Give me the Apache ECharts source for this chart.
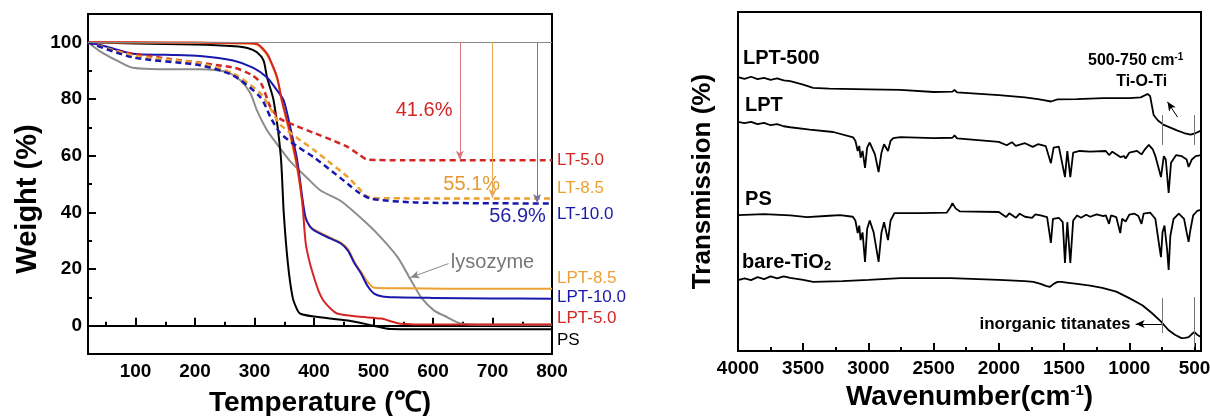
<!DOCTYPE html>
<html>
<head>
<meta charset="utf-8">
<script src="https://cdn.jsdelivr.net/npm/echarts@6/dist/echarts.min.js"></script>
<style>
  html, body { margin: 0; padding: 0; background: #fff; }
  #chart { width: 1210px; height: 416px; }
</style>
</head>
<body>
<div id="chart"></div>
<script>
// tick labels
const tgaXTicks = [100, 200, 300, 400, 500, 600, 700, 800];
const tgaXMinor = [50, 150, 250, 350, 450, 550, 650, 750];
const tgaYTicks = [0, 20, 40, 60, 80, 100];
const tgaYMinor = [10, 30, 50, 70, 90];
const irXTicks = [500, 1000, 1500, 2000, 2500, 3000, 3500, 4000];
const irXMinor = [750, 1250, 1750, 2250, 2750, 3250, 3750];

// TGA curves, [temperature, weight %]
const psTga = [[20,100],[100,99.6],[200,99.2],[266,98.6],[288,98],[304,96.5],[315,93.6],[321,87.6],[332,79.5],[344,60],[349,40],[356,22],[364,10],[372,5.5],[377,4.2],[400,3.2],[457,1.8],[500,0],[529,-1.2],[600,-1.3],[700,-1.3],[800,-1.3]];
const lpt50 = [[20,100],[100,100],[200,99.9],[280,99.8],[304,99.4],[321,96],[330,92],[338,87.6],[346,79.5],[360,68],[372,56],[380,44],[386,29],[393,22],[400,17],[408,12],[416,8.8],[428,6],[440,4.2],[474,3.2],[513,2.5],[530,1.5],[545,0.7],[600,0.4],[700,0.4],[800,0.4]];
const lpt85 = [[20,100],[100,99.9],[200,99.8],[290,99.5],[304,99.2],[321,95.5],[338,87],[346,79],[360,67],[372,55],[380,44],[385,38],[393,35.2],[400,34],[428,31],[445,29.3],[457,27],[468,22.5],[479,19],[490,15.5],[501,13.4],[550,13.2],[700,13],[800,13]];
const lpt100 = [[20,100],[50,98.5],[95,96],[150,95.6],[208,95.2],[264,93.6],[298,91],[321,87.6],[338,83],[349,79.5],[360,70],[372,58],[381,44],[386,38],[393,35],[400,33.6],[428,30.7],[445,29],[457,26.5],[468,22],[479,18.4],[490,14],[501,11.3],[515,10.3],[535,10],[600,9.8],[700,9.6],[800,9.5]];
const lysozyme = [[20,100],[39,97],[68,93.6],[95,91],[152,90.5],[208,90.5],[253,89.5],[276,86.6],[293,82],[304,76],[321,69],[338,64],[360,58],[389,52],[411,47.7],[445,44],[484,37],[513,31],[541,24],[563,16],[580,10],[602,5.3],[619,3.5],[648,0.7],[700,0.3],[800,0.3]];
const lt50 = [[20,100],[68,97],[152,94.3],[266,91],[295,88.5],[311,85.5],[327,77],[343,73],[370,70.5],[400,68],[430,65.5],[457,63],[475,60.5],[490,58.6],[550,58.4],[700,58.4],[800,58.4]];
const lt85 = [[20,100],[95,95.4],[208,92.6],[264,89],[310,82],[327,76.5],[343,71],[370,66.5],[400,62],[430,57],[457,52.4],[475,48.5],[490,45.5],[510,45],[650,44.9],[800,44.9]];
const lt100 = [[20,100],[95,94.7],[208,91.9],[264,88.3],[310,80.6],[327,73.5],[343,68],[370,63.5],[400,59.4],[430,54.5],[457,50],[475,47],[496,44.8],[569,43.5],[700,43.2],[800,43.1]];

// FTIR spectra, [wavenumber, offset transmission]
const irLpt500 = [[4000,80.8],[3950,80.3],[3900,80.9],[3850,80.2],[3800,80.6],[3750,80.0],[3700,80.4],[3650,79.8],[3600,79.6],[3500,78.6],[3424,77.6],[3300,77.4],[3000,77.2],[2755,77],[2500,76.4],[2356,76.5],[2340,77],[2320,76.3],[2000,75.5],[1800,74.8],[1700,74.3],[1657,74],[1600,73.6],[1550,74.2],[1400,74.3],[1200,74.6],[1000,74.6],[912,74.8],[860,75.8],[840,75.2],[813,69.6],[780,68],[736,66.7],[680,65.8],[630,65],[580,64.3],[530,63.8],[490,64.3],[450,65]];
const irLpt = [[4000,67.6],[3950,67.2],[3900,67.6],[3850,66.9],[3800,67.3],[3750,66.6],[3700,66.9],[3650,66.3],[3600,66],[3450,65.3],[3270,64.6],[3117,63],[3100,62],[3082,59],[3070,60.5],[3060,57],[3045,59],[3026,54],[3010,60],[2990,61.5],[2950,58],[2922,52.8],[2900,58.5],[2880,61],[2850,59],[2830,62],[2810,62.8],[2755,63.1],[2500,62.8],[2356,62.9],[2340,63.6],[2320,62.7],[2000,61.7],[1940,60.7],[1900,61.6],[1870,60.5],[1800,61.3],[1740,60.2],[1700,61],[1640,60.4],[1601,55.4],[1580,60],[1540,60.3],[1493,51.3],[1475,59],[1452,51.3],[1430,58.5],[1380,59],[1300,58.8],[1180,59],[1155,57.8],[1130,58.8],[1069,57.2],[1040,57.5],[1028,56.8],[1000,58.5],[940,59],[906,58],[880,59.5],[850,60.8],[820,59.5],[800,57.5],[757,51.3],[735,57.5],[720,56.5],[698,46.6],[680,55.5],[640,57.8],[600,57.5],[560,56.5],[545,54.3],[520,56.5],[490,57.5],[450,57.8]];
const irPs = [[4000,40.1],[3800,40.4],[3600,40],[3470,39.5],[3300,39.9],[3217,40.1],[3120,39.6],[3100,38.5],[3082,34.8],[3070,37],[3060,32.7],[3045,35],[3026,26.3],[3010,36],[2990,38.5],[2960,35],[2922,26.3],[2900,35],[2880,38],[2850,32.7],[2830,38.5],[2800,40.7],[2600,40.7],[2400,40.8],[2370,42.5],[2356,43.6],[2330,42],[2300,41.2],[2000,41],[1945,39.5],[1920,40.6],[1870,39.3],[1840,40.5],[1800,39.6],[1745,39.3],[1720,40.3],[1680,40],[1630,39.5],[1601,31.9],[1585,39],[1540,39.3],[1510,38],[1493,26],[1475,38],[1452,26],[1430,38.5],[1400,40],[1370,39.3],[1330,40.2],[1300,39.6],[1250,40.3],[1200,39.8],[1180,40],[1155,37.5],[1140,40],[1100,39.5],[1069,34.8],[1055,39],[1028,38.2],[1000,40.2],[960,40.5],[930,39.8],[906,37.5],[890,40.5],[840,40.8],[800,39],[770,31],[757,27.7],[745,35],[730,37],[710,30],[698,23.9],[685,34],[660,39],[620,40.5],[580,39],[560,35],[545,32.2],[530,36],[510,40],[480,41.3],[450,41.6]];
const irTio2 = [[4000,20.9],[3950,21.4],[3900,20.9],[3850,21.8],[3800,21.2],[3750,22],[3700,21.4],[3650,22],[3600,21.6],[3500,21],[3424,20.4],[3200,20.6],[3000,21],[2755,21.5],[2370,21.5],[2000,21],[1800,20.6],[1735,20.4],[1680,19.8],[1640,19.2],[1610,18.9],[1580,19.8],[1550,20.4],[1520,20.4],[1480,20.2],[1400,19.8],[1300,19.3],[1207,18.6],[1100,17.5],[1000,15.6],[900,13.5],[827,11.2],[760,8.8],[700,6.2],[650,4.8],[600,3.8],[570,3.9],[545,4.1],[520,5],[500,5.6],[480,4.8],[450,4.1]];

const FONT = "'Liberation Sans', Arial, sans-serif";
const RED = "#d42525", ORANGE = "#eea032", BLUE = "#1818ac", GRAY = "#8c8c8c";

// text placed at a data coordinate
function note(x, y, text, color, extra) {
  return {
    coord: [x, y], symbolSize: 0,
    label: Object.assign({
      show: true, formatter: text, color: color, position: "inside",
      fontFamily: FONT, fontSize: 20
    }, extra || {})
  };
}
// arrow from a to b, data coordinates
function arrow(a, b, color, width) {
  return [
    { coord: a, symbol: "none", lineStyle: { color: color, width: width || 1, type: "solid" } },
    { coord: b, symbol: "arrow", symbolSize: [6, 9] }
  ];
}
function bar(a, b) {
  return [
    { coord: a, symbol: "none", lineStyle: { color: "#777", width: 1, type: "solid" } },
    { coord: b, symbol: "none" }
  ];
}

function tga(name, data, color, dashed, dy) {
  return {
    name: name, type: "line", xAxisIndex: 0, yAxisIndex: 0,
    data: data, symbol: "none", smooth: 0.25,
    lineStyle: { color: color, width: dashed ? 2.5 : 2, type: dashed ? [6, 4] : "solid" },
    endLabel: {
      show: dy !== null, formatter: "{a}", color: color, fontFamily: FONT,
      fontSize: 17, distance: 5, offset: [0, dy || 0]
    },
    z: dashed ? 3 : 2
  };
}
function ir(name, data) {
  return {
    name: name, type: "line", xAxisIndex: 2, yAxisIndex: 2,
    data: data, symbol: "none",
    lineStyle: { color: "#000", width: 1.8 }
  };
}

const plain = (v) => String(v);
const tickLabel = { color: "#000", fontWeight: "bold", fontSize: 19, fontFamily: FONT, formatter: plain };
const titleStyle = { color: "#000", fontWeight: "bold", fontSize: 28, fontFamily: FONT };

const sLt50 = tga("LT-5.0", lt50, RED, true, 0);
sLt50.markLine = { silent: true, label: { show: false }, animation: false,
  data: [arrow([645, 100], [645, 58.6], "#d9777c")] };
sLt50.markPoint = { data: [note(585, 76, "41.6%", RED)] };
const sLt85 = tga("LT-8.5", lt85, ORANGE, true, -10);
sLt85.markLine = { silent: true, label: { show: false }, animation: false,
  data: [arrow([700, 100], [700, 45.1], "#e8a850")] };
sLt85.markPoint = { data: [note(665, 50, "55.1%", "#e49a34")] };
const sLt100 = tga("LT-10.0", lt100, BLUE, true, 11);
sLt100.markLine = { silent: true, label: { show: false }, animation: false,
  data: [arrow([775, 100], [775, 43.3], "#7676a8")] };
sLt100.markPoint = { data: [note(742, 38.5, "56.9%", "#2424a4")] };
const sLys = tga("lysozyme", lysozyme, GRAY, false, null);
sLys.markLine = { silent: true, label: { show: false }, animation: false,
  data: [arrow([626, 21.9], [562, 17], "#888")] };
sLys.markPoint = { data: [note(700, 22.3, "lysozyme", "#777")] };
const sPs = tga("PS", psTga, "#000", false, 11);
sPs.markLine = { silent: true, symbol: "none", label: { show: false }, animation: false,
  lineStyle: { color: "#888", width: 1, type: "solid" }, data: [{ yAxis: 100 }] };

const labelBold = { fontWeight: "bold", fontSize: 20, position: "right", distance: 0, color: "#000" };
const sIr500 = ir("LPT-500", irLpt500);
sIr500.markPoint = { data: [
  note(3962, 86.2, "LPT-500", "#000", labelBold),
  note(951, 85.8, "{t|500-750 cm}{s|-1}", "#000", { rich: {
    t: { fontWeight: "bold", fontSize: 16, fontFamily: FONT, color: "#000" },
    s: { fontWeight: "bold", fontSize: 10, fontFamily: FONT, color: "#000", verticalAlign: "top" } } }),
  note(905, 79.4, "Ti-O-Ti", "#000", { fontWeight: "bold", fontSize: 16 })
] };
sIr500.markLine = { silent: true, label: { show: false }, animation: false, data: [
  bar([750, 69.6], [750, 60.8]), bar([500, 69.6], [500, 60.8]),
  arrow([630, 69], [707, 73.5], "#000")
] };
const sIrLpt = ir("LPT", irLpt);
sIrLpt.markPoint = { data: [note(3946, 72.4, "LPT", "#000", labelBold)] };
const sIrPs = ir("PS", irPs);
sIrPs.markPoint = { data: [note(3946, 44.8, "PS", "#000", labelBold)] };
const sIrTio2 = ir("bare-TiO2", irTio2);
sIrTio2.markPoint = { data: [
  note(3969, 26, "{t|bare-TiO}{s|2}", "#000", Object.assign({}, labelBold, { rich: {
    t: { fontWeight: "bold", fontSize: 20, fontFamily: FONT, color: "#000" },
    s: { fontWeight: "bold", fontSize: 13, fontFamily: FONT, color: "#000", verticalAlign: "bottom" } } })),
  note(990, 8, "inorganic titanates", "#000", { fontWeight: "bold", fontSize: 17, position: "left", distance: 0 })
] };
sIrTio2.markLine = { silent: true, label: { show: false }, animation: false, data: [
  bar([750, 15.6], [750, 5.3]), bar([500, 15.9], [500, 1.2]),
  arrow([750, 8], [951, 8], "#000")
] };

const chart = echarts.init(document.getElementById("chart"));
chart.setOption({
  animation: false,
  grid: [
    { left: 88, top: 14, width: 464, height: 340, show: true, borderColor: "#000", borderWidth: 2,
      containLabel: false, outerBoundsMode: "none" },
    { left: 738, top: 12, width: 463, height: 339, show: true, borderColor: "#000", borderWidth: 2,
      containLabel: false, outerBoundsMode: "none" }
  ],
  xAxis: [
    { type: "value", gridIndex: 0, min: 20, max: 800,
      name: "Temperature (\u2103)", nameLocation: "middle", nameGap: 35, nameTextStyle: titleStyle,
      axisLine: { lineStyle: { color: "#000", width: 2 } },
      axisTick: { inside: true, length: 8, lineStyle: { width: 2, color: "#000" }, customValues: tgaXTicks },
      axisLabel: Object.assign({ margin: 8, customValues: tgaXTicks }, tickLabel),
      splitLine: { show: false } },
    { type: "value", gridIndex: 0, min: 20, max: 800, position: "bottom",
      axisLine: { show: false },
      axisTick: { inside: true, length: 4, lineStyle: { width: 2, color: "#000" }, customValues: tgaXMinor },
      axisLabel: { show: false }, splitLine: { show: false } },
    { type: "value", gridIndex: 1, min: 450, max: 4000, inverse: true,
      name: "{t|Wavenumber(cm}{s|-1}{t|)}", nameLocation: "middle", nameGap: 31,
      nameTextStyle: { rich: {
        t: titleStyle,
        s: { color: "#000", fontWeight: "bold", fontSize: 15, fontFamily: FONT, verticalAlign: "top" } } },
      axisLine: { lineStyle: { color: "#000", width: 2 } },
      axisTick: { inside: true, length: 8, lineStyle: { width: 2, color: "#000" }, customValues: irXTicks },
      axisLabel: Object.assign({ margin: 8, customValues: irXTicks }, tickLabel),
      splitLine: { show: false } },
    { type: "value", gridIndex: 1, min: 450, max: 4000, inverse: true, position: "bottom",
      axisLine: { show: false },
      axisTick: { inside: true, length: 4, lineStyle: { width: 2, color: "#000" }, customValues: irXMinor },
      axisLabel: { show: false }, splitLine: { show: false } }
  ],
  yAxis: [
    { type: "value", gridIndex: 0, min: -10, max: 110,
      name: "Weight (%)", nameLocation: "middle", nameGap: 46,
      nameTextStyle: Object.assign({}, titleStyle, { fontSize: 29, padding: [0, 30, 0, 0] }),
      axisLine: { show: true, lineStyle: { color: "#000", width: 2 } },
      axisTick: { show: true, inside: true, length: 8, lineStyle: { width: 2, color: "#000" }, customValues: tgaYTicks },
      axisLabel: Object.assign({ margin: 6, customValues: tgaYTicks }, tickLabel),
      splitLine: { show: false } },
    { type: "value", gridIndex: 0, min: -10, max: 110, position: "left",
      axisLine: { show: false },
      axisTick: { show: true, inside: true, length: 4, lineStyle: { width: 2, color: "#000" }, customValues: tgaYMinor },
      axisLabel: { show: false }, splitLine: { show: false } },
    { type: "value", gridIndex: 1, min: 0, max: 100,
      name: "Transmission (%)", nameLocation: "middle", nameGap: 22, nameTextStyle: Object.assign({}, titleStyle, { fontSize: 26 }),
      axisLine: { show: true, lineStyle: { color: "#000", width: 2 } },
      axisTick: { show: false }, axisLabel: { show: false }, splitLine: { show: false } }
  ],
  series: [
    sLys, sPs,
    tga("LPT-8.5", lpt85, ORANGE, false, -11),
    tga("LPT-10.0", lpt100, BLUE, false, -1),
    tga("LPT-5.0", lpt50, RED, false, -6),
    sLt50, sLt85, sLt100,
    sIr500, sIrLpt, sIrPs, sIrTio2
  ]
});
</script>
</body>
</html>
